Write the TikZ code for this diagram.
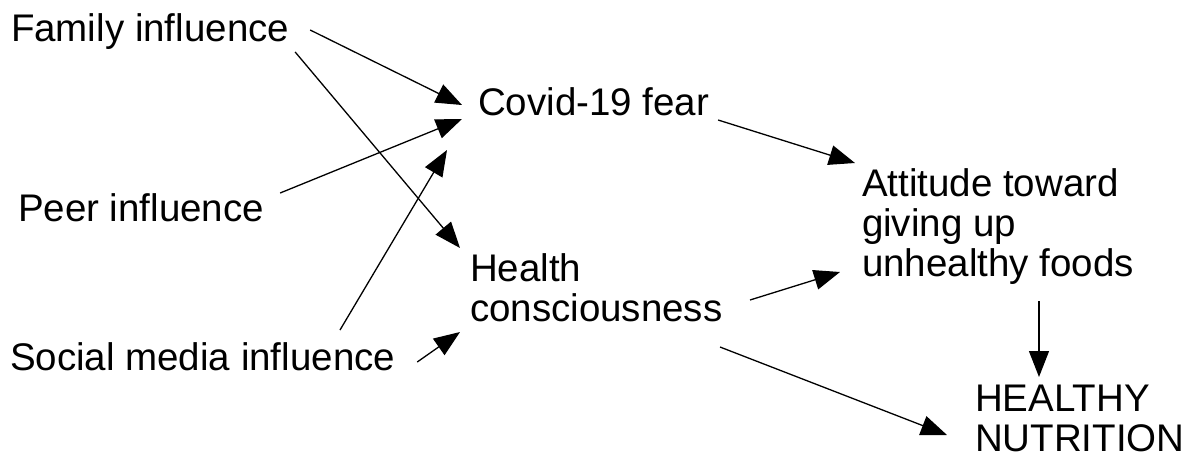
\documentclass[tikz,border=0pt]{standalone}
\usepackage{fontspec}
\setmainfont{Liberation Sans}
\usetikzlibrary{arrows.meta,calc}
\begin{document}
\begin{tikzpicture}[x=1pt,y=-1pt,
  lbl/.style={inner sep=0pt,outer sep=0pt,align=left,font=\fontsize{38.5}{40}\selectfont},
  link/.style={line width=1.3pt,-{Triangle[length=26pt,width=20pt]}}]
\useasboundingbox[fill=white] (0,0) rectangle (1187,459);
\node[lbl,anchor=base west] (fam) at (11,41) {Family influence};
\node[lbl,anchor=base west] (peer) at (18,221) {Peer influence};
\node[lbl,anchor=base west] (soc) at (10,370) {Social media influence};
\node[lbl,anchor=base west] (cov) at (478,115) {Covid-19 fear};
\node[lbl,anchor=north west] (att) at (862,169) {Attitude toward\\giving up\\unhealthy foods};
\node[lbl,anchor=north west] (hc) at (470,254) {Health\\consciousness};
\node[lbl,anchor=north west] (hn) at (975,385) {HEALTHY\\NUTRITION};
% connectors (offsets from node anchors)
\draw[link] ($(fam.base east)+(21,-11)$) -- ($(cov.base west)+(-16,-10)$);
\draw[link] ($(fam.base east)+(6,11)$) -- ($(hc.north west)+(-10,-6)$);
\draw[link] ($(peer.base east)+(16,-28)$) -- ($(cov.base west)+(-16,4)$);
\draw[link] ($(soc.base west)+(330,-40)$) -- ($(cov.base west)+(-31,35)$);
\draw[link] ($(soc.base east)+(22,-8)$) -- ($(hc.north west)+(-10,78)$);
\draw[link] ($(cov.base east)+(9,5)$) -- ($(att.north west)+(-7,-6)$);
\draw[link] ($(hc.north west)+(280,46)$) -- ($(att.north west)+(-22,103)$);
\draw[link] ($(hc.north west)+(250,93)$) -- ($(hn.north west)+(-28,50)$);
\draw[link] ($(att.north west)+(177,132)$) -- ($(hn.north west)+(64,-8)$);
\end{tikzpicture}
\end{document}
